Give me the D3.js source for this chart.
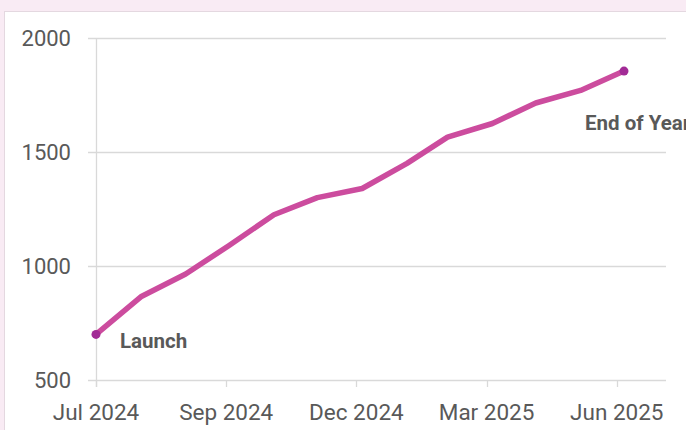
<!DOCTYPE html>
<html>
<head>
<meta charset="utf-8">
<script src="https://cdn.jsdelivr.net/npm/d3@7"></script>
<style>
  html, body { margin: 0; padding: 0; background: #f9ebf4; }
  svg { display: block; }
</style>
</head>
<body>
<svg id="chart" width="686" height="430"></svg>
<script>
// ---- data ----
const months = ["2024-07","2024-08","2024-09","2024-10","2024-11","2024-12","2025-01","2025-02","2025-03","2025-04","2025-05","2025-06","2025-07"];
const values = [700, 865, 965, 1090, 1225, 1300, 1340, 1450, 1565, 1625, 1715, 1770, 1855];
const tickDates = ["2024-07-01","2024-09-29","2024-12-28","2025-03-28","2025-06-26"];
const tickLabels = ["Jul 2024","Sep 2024","Dec 2024","Mar 2025","Jun 2025"];
const yTicks = [500, 1000, 1500, 2000];
const annotations = [
  { index: 0, text: "Launch" },
  { index: 12, text: "End of Year" }
];

const parseMonth = d3.timeParse("%Y-%m");
const parseDay = d3.timeParse("%Y-%m-%d");
const data = months.map((m, i) => ({ date: parseMonth(m), value: values[i] }));

const svg = d3.select("#chart");
const font = "Roboto, 'Open Sans', sans-serif";

// panel
svg.append("rect")
  .attr("x", 4.5).attr("y", 11.5)
  .attr("width", 700).attr("height", 440)
  .attr("fill", "#ffffff")
  .attr("stroke", "#e4d8e0").attr("stroke-width", 1);

const x = d3.scaleTime()
  .domain([parseMonth("2024-07"), parseMonth("2025-07")])
  .range([96, 624]);
const y = d3.scaleLinear().domain([500, 2000]).range([380, 38]);

const gridColor = "#d9d9d9";

// gridlines (incl. left tick stubs)
svg.append("g").selectAll("line").data(yTicks).join("line")
  .attr("x1", 88).attr("x2", 666)
  .attr("y1", d => Math.round(y(d)) + 0.5).attr("y2", d => Math.round(y(d)) + 0.5)
  .attr("stroke", gridColor).attr("stroke-width", 1.3);

// y axis line
svg.append("line")
  .attr("x1", 96.5).attr("x2", 96.5)
  .attr("y1", y(2000)).attr("y2", y(500) + 7)
  .attr("stroke", gridColor).attr("stroke-width", 1.3);

// y labels
svg.append("g").selectAll("text").data(yTicks).join("text")
  .attr("x", 71).attr("y", d => y(d))
  .attr("dy", "0.36em")
  .attr("text-anchor", "end")
  .attr("font-family", font).attr("font-size", 22)
  .attr("fill", "#595959")
  .text(d => d);

// x ticks
const xt = tickDates.map(parseDay);
svg.append("g").selectAll("line").data(xt).join("line")
  .attr("x1", d => Math.round(x(d)) + 0.5).attr("x2", d => Math.round(x(d)) + 0.5)
  .attr("y1", y(500)).attr("y2", y(500) + 7)
  .attr("stroke", gridColor).attr("stroke-width", 1.3);

svg.append("g").selectAll("text").data(xt).join("text")
  .attr("x", d => x(d)).attr("y", 420)
  .attr("text-anchor", "middle")
  .attr("font-family", font).attr("font-size", 22.5)
  .attr("fill", "#595959")
  .text((d, i) => tickLabels[i]);

// line
const line = d3.line().x(d => x(d.date)).y(d => y(d.value));
svg.append("path").datum(data)
  .attr("d", line)
  .attr("fill", "none")
  .attr("stroke", "#cc4c9e")
  .attr("stroke-width", 5.5)
  .attr("stroke-linejoin", "round")
  .attr("stroke-linecap", "round");

// endpoint markers
svg.append("g").selectAll("circle").data(annotations).join("circle")
  .attr("cx", d => x(data[d.index].date))
  .attr("cy", d => y(data[d.index].value))
  .attr("r", 4.5)
  .attr("fill", "#a22b96");

// annotation labels
const offsets = { 0: [24, 14], 12: [-39, 59] };
svg.append("g").selectAll("text").data(annotations).join("text")
  .attr("x", d => x(data[d.index].date) + offsets[d.index][0])
  .attr("y", d => y(data[d.index].value) + offsets[d.index][1])
  .attr("font-family", font).attr("font-size", 20.5).attr("font-weight", "bold")
  .attr("fill", "#595959")
  .text(d => d.text);
</script>
</body>
</html>
